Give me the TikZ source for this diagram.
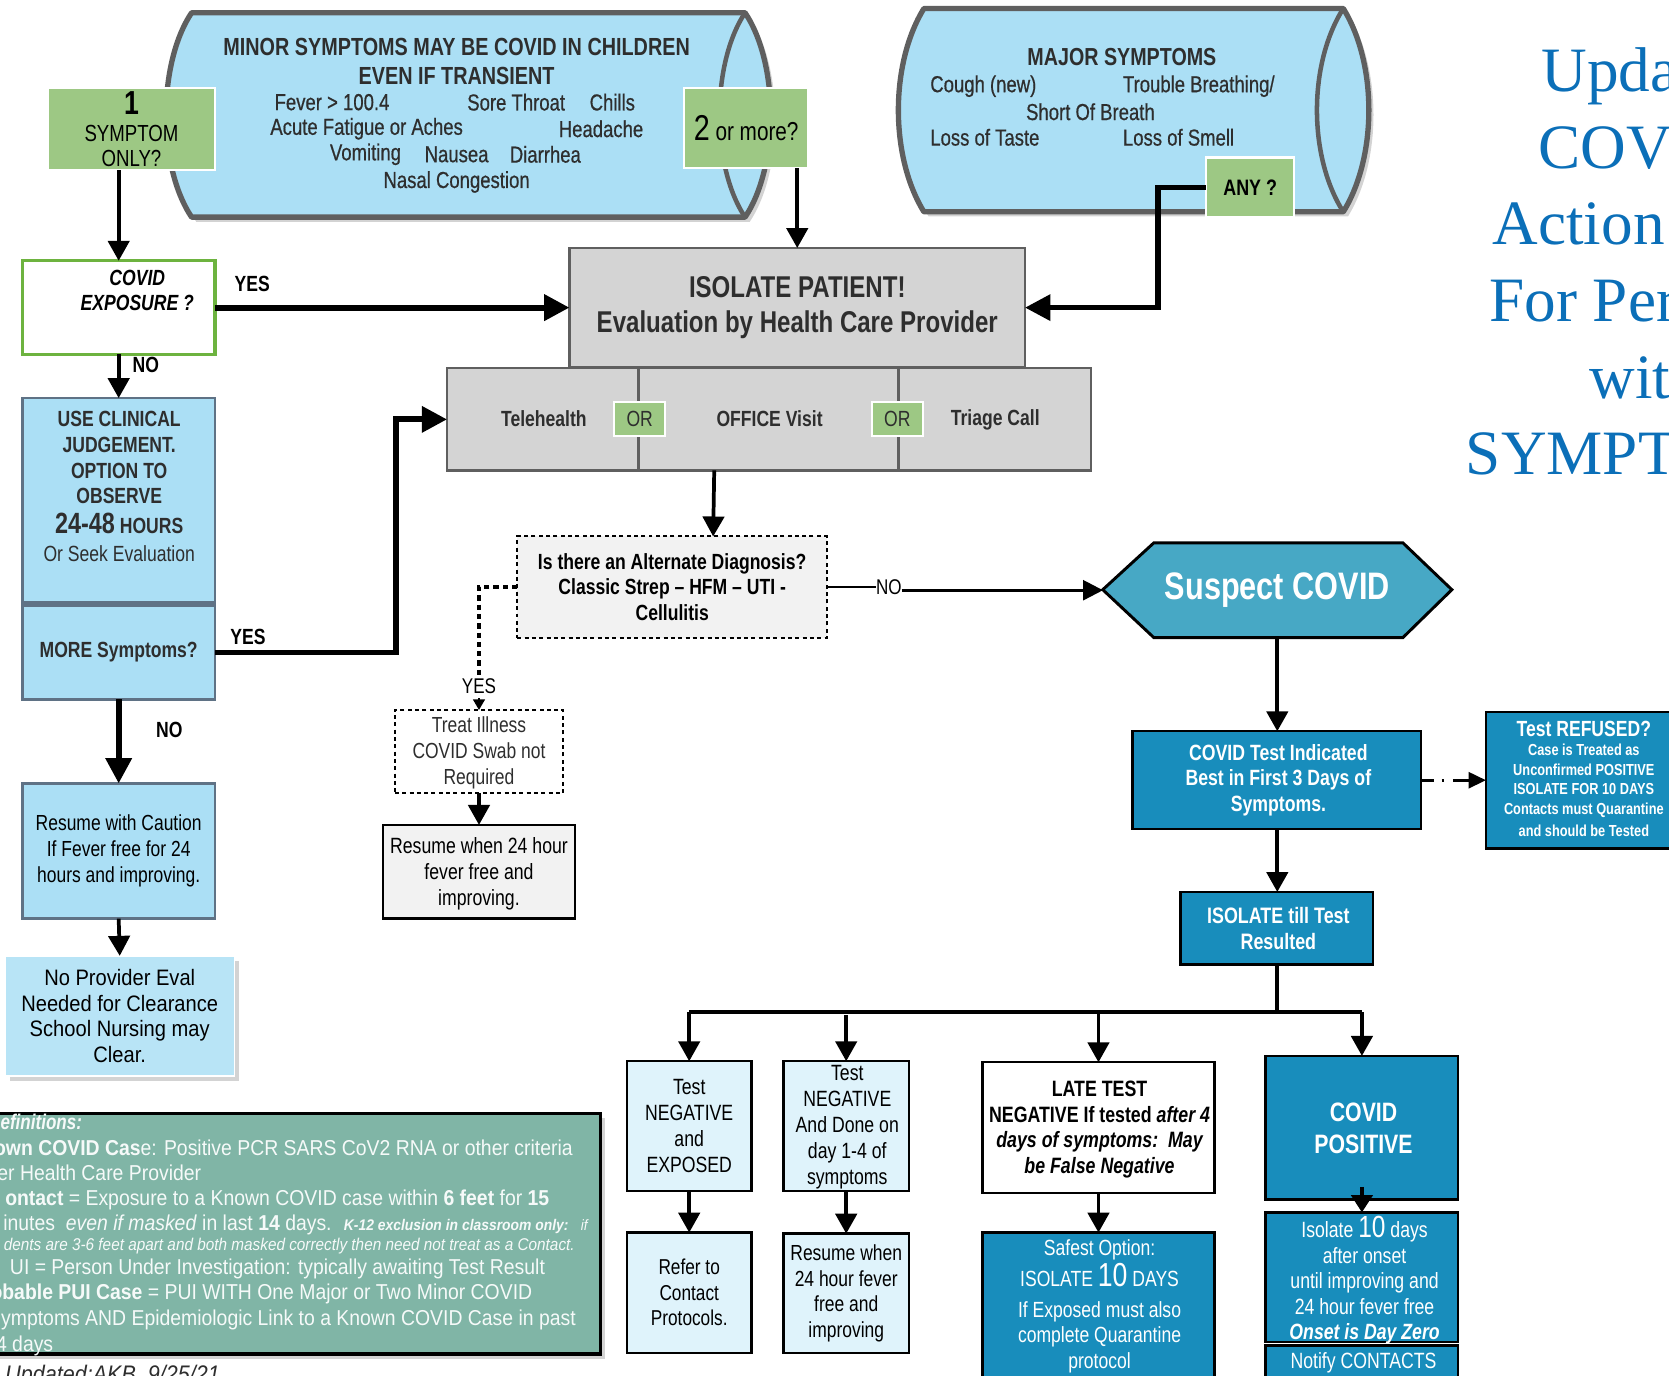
\documentclass[tikz,border=0pt]{standalone}
\usepackage{fontspec}
\setmainfont[FakeStretch=0.80]{Liberation Sans}
\newfontfamily\ser{Liberation Serif}
\newfontfamily\med[FakeStretch=0.80,FakeBold=0.6]{Liberation Sans}
\newfontfamily\dfn[FakeStretch=0.90]{Liberation Sans}
\usetikzlibrary{arrows.meta,shadows,calc}
\definecolor{lb}{HTML}{ABDFF5}
\definecolor{lbb}{HTML}{DFF3FB}
\definecolor{grn}{HTML}{9DC884}
\definecolor{grnb}{HTML}{6DB33F}
\definecolor{gr}{HTML}{D4D4D4}
\definecolor{edge}{HTML}{5F5F5F}
\definecolor{lbedge}{HTML}{5F7285}
\definecolor{pan}{HTML}{F2F2F2}
\definecolor{teal1}{HTML}{47A8C5}
\definecolor{db}{HTML}{188DBC}
\definecolor{defc}{HTML}{80B5A6}
\definecolor{ttl}{HTML}{0B6FB8}
\definecolor{ink}{HTML}{2E2E2E}
\newcommand{\fs}[2]{\fontsize{#1}{#2}\selectfont}
% box from corners: name, x1,y1,x2,y2, style, text
\newcommand{\bx}[7]{\node[boxn,#6,minimum width={(#4-(#2))*0.8pt},minimum height={(#5-(#3))*0.8pt}] (#1) at ({(#2+#4)/2},{(#3+#5)/2}) {#7};}
\tikzset{
  boxn/.style={inner sep=0pt,outer sep=0pt,align=center,text=ink},
  edgeb/.style={draw=edge,line width=1.8pt},
  grnbox/.style={fill=grn,draw=white,line width=1.6pt,text=black},
  lbbox/.style={fill=lb,draw=lbedge,line width=1.8pt,text=ink},
  lbbbox/.style={fill=lbb,draw=black,line width=1.8pt,text=black},
  whbox/.style={fill=white,draw=black,line width=1.8pt,text=black},
  dbbox/.style={fill=db,draw=black,line width=1.8pt,text=white},
  grbox/.style={fill=gr,edgeb},
  dsh/.style={draw=black,line width=1.5pt,dash pattern=on 3pt off 2.5pt},
  shad/.style={drop shadow={shadow xshift=3.5pt,shadow yshift=-3.5pt,opacity=.35,fill=gray}},
  tx/.style={inner sep=0pt,outer sep=0pt,align=center,text=ink},
  lft/.style={tx,anchor=west},
  dfl/.style={tx,anchor=east,text=white!93!defc},
  mt/.style={font=\med\fs{17.4}{20}},
  ttlt/.style={inner sep=0pt,anchor=base west,text=ttl,font=\ser\fs{47.5}{49}},
  lab/.style={tx,text=black,font=\bfseries\fs{16.5}{18}},
  arr/.style={line width=2.8pt,-{Triangle[length=15pt,width=16pt]}},
  arrb/.style={line width=4.4pt,-{Triangle[length=19pt,width=19pt]}},
  arrs/.style={line width=2pt,-{Triangle[length=13pt,width=12pt]}},
}
\begin{document}
\begin{tikzpicture}[x=0.8pt,y=-0.8pt]
\path[use as bounding box] (0,0) rectangle (1568,1292);
\clip (0,0) rectangle (1568,1292);
% cylinders
\path[shad,fill=lb,draw=edge,line width=4pt,line join=round]
 (180,12) -- (700,12) .. controls (732,60) and (732,156) .. (700,204) -- (180,204) .. controls (148,156) and (148,60) .. (180,12) -- cycle;
\draw[edge,line width=3.4pt] (700,12) .. controls (668,60) and (668,156) .. (700,204);
\path[shad,fill=lb,draw=edge,line width=4pt,line join=round]
 (868,8) -- (1262,8) .. controls (1294,60) and (1294,147) .. (1262,199) -- (868,199) .. controls (836,147) and (836,60) .. (868,8) -- cycle;
\draw[edge,line width=3.4pt] (1262,8) .. controls (1229,60) and (1229,147) .. (1262,199);
% cylinder texts
\node[tx,font=\bfseries\fs{18.6}{21.5}] (minorh) at (429,58) {MINOR SYMPTOMS MAY BE COVID IN CHILDREN\\EVEN IF TRANSIENT};
\node[lft,mt] (m1) at (258,96) {Fever > 100.4};
\node[lft,mt] (m2) at (439,96) {Sore Throat};
\node[lft,mt] (m3) at (554,96) {Chills};
\node[lft,mt] (m4) at (254,121) {Acute Fatigue or Aches};
\node[lft,mt] (m5) at (525,121) {Headache};
\node[lft,mt] (m6) at (310,145) {Vomiting};
\node[lft,mt] (m7) at (399,145) {Nausea};
\node[lft,mt] (m8) at (479,145) {Diarrhea};
\node[tx,mt] (m9) at (429,171) {Nasal Congestion};
\node[tx,font=\bfseries\fs{18.5}{21}] (majh) at (1054,54) {MAJOR SYMPTOMS};
\node[lft,mt] (j1) at (874,81) {Cough (new)};
\node[lft,mt] (j2) at (1055,81) {Trouble Breathing/};
\node[lft,mt] (j3) at (964,105) {Short Of Breath};
\node[lft,mt] (j4) at (874,129) {Loss of Taste};
\node[lft,mt] (j5) at (1055,129) {Loss of Smell};
% title
\node[ttlt] (t1) at (1448,86) {Upda};
\node[ttlt] (t2) at (1445,158) {COV};
\node[ttlt] (t3) at (1402,230) {Action};
\node[ttlt] (t4) at (1399,302) {For Per};
\node[ttlt] (t5) at (1493,374) {with};
\node[ttlt] (t6) at (1377,446) {SYMPT};
% green
\bx{one}{45}{83}{202}{160}{grnbox,font=\fs{17.5}{19}}{{\bfseries\fs{25}{24}1}\\[1pt]SYMPTOM\\ONLY?}
\bx{two}{643}{83}{759}{158}{grnbox,font=\fs{19.5}{19}}{{\fs{27}{25}2} or more?}
\bx{any}{1133}{148}{1216}{204}{grnbox,font=\bfseries\fs{16.8}{19}}{ANY ?}
% left column
\bx{expo}{21}{245}{202}{333}{fill=white,draw=grnb,line width=2.4pt}{}
\node[tx,text=black,font=\bfseries\itshape\fs{16.5}{19}] (expot) at (129,273) {COVID\\EXPOSURE ?};
\bx{use}{21}{374}{202}{566}{lbbox}{}
\node[tx,font=\fs{16.5}{19.4}] (uset) at (112,457) {\bfseries USE CLINICAL\\\bfseries JUDGEMENT.\\\bfseries OPTION TO\\\bfseries OBSERVE\\[2.5pt]{\bfseries\fs{22}{21}24-48} {\bfseries HOURS}\\[2pt]Or Seek Evaluation};
\bx{more}{21}{569}{202}{657}{lbbox,font=\bfseries\fs{16.5}{19}}{\raisebox{-1pt}{MORE Symptoms?}}
\bx{resl}{21}{736}{202}{863}{lbbox,text=black,font=\fs{16.4}{19.4}}{Resume with Caution\\If Fever free for 24\\hours and improving.}
\bx{nop}{5}{898}{220}{1011}{fill=lb!85!white,draw=white,line width=1pt,shad,text=black,font=\dfn\fs{16.8}{19.5}}{No Provider Eval\\Needed for Clearance\\School Nursing may\\Clear.}
% centre
\bx{iso}{535}{233}{963}{345}{grbox}{}
\node[tx,font=\bfseries\fs{22.6}{26.4}] (isot) at (749,289) {ISOLATE PATIENT!\\Evaluation by Health Care Provider};
\bx{row}{420}{346}{1025}{442}{grbox}{}
\draw[edgeb] (600,346) -- (600,442);
\draw[edgeb] (844,346) -- (844,442);
\node[tx,font=\bfseries\fs{16.5}{19}] (tele) at (511,393) {Telehealth};
\node[tx,font=\bfseries\fs{16.5}{19}] (off) at (723,393) {OFFICE Visit};
\node[tx,font=\bfseries\fs{16.5}{19}] (tri) at (935,394.5) {Triage Call};
\bx{or1}{577}{378}{625}{410}{grnbox,text=ink,font=\fs{16.5}{19}}{OR}
\bx{or2}{819}{378}{867}{410}{grnbox,text=ink,font=\fs{16.5}{19}}{OR}
\bx{alt}{486}{504}{777}{599}{fill=pan,dsh,text=black,font=\bfseries\fs{16.5}{19.2}}{Is there an Alternate Diagnosis?\\Classic Strep -- HFM -- UTI -\\Cellulitis}
\bx{treat}{371}{667}{529}{745}{fill=white,dsh}{}
\node[tx,font=\fs{16.4}{19.6}] (treatt) at (450,707) {Treat Illness\\COVID Swab not\\Required};
\bx{res2}{360}{775}{540}{863}{fill=pan,draw=black,line width=1.8pt}{}
\node[tx,text=black,font=\fs{16.6}{19.6}] (res2t) at (450,821) {Resume when 24 hour\\fever free and\\improving.};
% suspect
\draw[fill=teal1,draw=black,line width=2.2pt,line join=miter] (1036,554) -- (1084,510) -- (1318,510) -- (1364,554) -- (1318,599) -- (1084,599) -- cycle;
\node[boxn,text=white,font=\bfseries\fs{28.8}{30},minimum width=262pt,minimum height=71pt] (sus) at (1200,554.5) {\raisebox{-2pt}{Suspect COVID}};
% right column
\bx{test}{1064}{687}{1335}{779}{dbbox}{}
\node[tx,text=white,font=\bfseries\fs{16.6}{19.4}] (testt) at (1201,733) {COVID Test Indicated\\Best in First 3 Days of\\Symptoms.};
\bx{ref}{1396}{669}{1600}{797}{dbbox}{}
\node[tx,text=white,font=\bfseries\fs{12}{14.6}] (reft) at (1488,732) {{\fs{16.5}{18}Test REFUSED?}\\Case is Treated as\\Unconfirmed POSITIVE\\ISOLATE FOR 10 DAYS\\Contacts must Quarantine\\[2.5pt]and should be Tested};
\bx{till}{1109}{838}{1290}{906}{dbbox}{}
\node[tx,text=white,font=\bfseries\fs{16.8}{19.4}] (tillt) at (1201,872) {ISOLATE till Test\\Resulted};
\coordinate (bus) at (1200,951);
\bx{neg1}{589}{997}{706}{1119}{lbbbox,font=\fs{16.6}{19.4}}{Test\\NEGATIVE\\and\\EXPOSED}
\bx{ref1}{589}{1158}{706}{1271}{lbbbox,font=\fs{16.2}{19.2}}{Refer to\\Contact\\Protocols.}
\bx{neg2}{736}{997}{854}{1119}{lbbbox}{}
\node[tx,text=black,font=\fs{16.6}{19.4}] (neg2t) at (796,1059) {Test\\NEGATIVE\\And Done on\\day 1-4 of\\symptoms};
\bx{res3}{736}{1159}{854}{1271}{lbbbox,font=\fs{16.4}{19.2}}{Resume when\\24 hour fever\\free and\\improving}
\bx{late}{923}{998}{1141}{1121}{whbox}{}
\node[tx,text=black,font=\bfseries\fs{16.7}{19.2}] (latet) at (1033,1061) {LATE TEST\\NEGATIVE If tested {\itshape after 4}\\{\itshape days of symptoms:~~May}\\{\itshape be False Negative}};
\bx{safe}{923}{1158}{1141}{1300}{dbbox}{}
\node[tx,text=white,font=\fs{16.5}{19.2}] (safet) at (1033,1227) {Safest Option:\\[1.5pt]ISOLATE {\fs{25}{24}10} DAYS\\[4pt]If Exposed must also\\complete Quarantine\\protocol};
\bx{pos}{1189}{992}{1370}{1127}{dbbox}{}
\node[tx,text=white,font=\bfseries\fs{20}{24}] (post) at (1281,1060) {COVID\\POSITIVE};
\bx{iso2}{1189}{1139}{1370}{1261}{dbbox}{}
\node[tx,text=white,font=\fs{16.6}{19.2}] (iso2t) at (1282,1203) {Isolate {\fs{23}{23}10} days\\after onset\\until improving and\\24 hour fever free\\{\bfseries\itshape Onset is Day Zero}};
\bx{not}{1189}{1264}{1370}{1300}{dbbox}{}
\node[tx,text=white,font=\fs{16.6}{19}] (nott) at (1281,1280) {Notify CONTACTS};
% definitions
\bx{defs}{-10}{1046}{564}{1272}{fill=defc,draw=black,line width=2.4pt,shad}{}
\node[dfl,font=\bfseries\itshape\fs{16}{19}] (d1) at (77,1054) {efinitions:};
\node[dfl,font=\dfn\fs{16.2}{19}] (d2) at (538,1078) {{\bfseries nown COVID Cas}e: Positive PCR SARS CoV2 RNA or other criteria};
\node[dfl,font=\dfn\fs{16.2}{19}] (d3) at (189,1102) {er Health Care Provider};
\node[dfl,font=\dfn\fs{16.2}{19}] (d4) at (516,1127) {{\bfseries ontact} = Exposure to a Known COVID case within {\bfseries 6 feet} for {\bfseries 15}};
\node[dfl,font=\dfn\fs{16.2}{19}] (d5) at (552,1151) {inutes~~\textit{even if masked} in last {\bfseries 14} days. {\bfseries\itshape\fs{11.6}{13} K-12 exclusion in classroom only:} {\itshape\fs{11.3}{13} if}};
\node[dfl,font=\dfn\itshape\fs{12.8}{13}] (d6) at (540,1171) {dents are 3-6 feet apart and both masked correctly then need not treat as a Contact.};
\node[dfl,font=\dfn\fs{16.2}{19}] (d7) at (512,1192) {UI = Person Under Investigation: typically awaiting Test Result};
\node[dfl,font=\dfn\fs{16.2}{19}] (d8) at (500,1216) {{\bfseries obable PUI Case} = PUI WITH One Major or Two Minor COVID};
\node[dfl,font=\dfn\fs{16.2}{19}] (d9) at (541,1240) {ymptoms AND Epidemiologic Link to a Known COVID Case in past};
\node[dfl,font=\dfn\fs{16.2}{19}] (d10) at (50,1264) {4 days};
\node[tx,anchor=west,font=\dfn\itshape\fs{18}{19}] (upd) at (5,1293) {Updated:AKB~~9/25/21};
% labels
\node[lab] (lyes1) at (237,267) {YES};
\node[lab] (lno1) at (137,343) {NO};
\node[lab] (lyes2) at (233,598) {YES};
\node[lab] (lno2) at (159,686) {NO};
\node[tx,text=black,font=\fs{16}{18}] (lno3) at (835,552) {NO};
\node[tx,text=black,font=\fs{16}{18},outer sep=3pt] (lyes3) at (450,645) {YES};
% connectors
\draw[arr] (one.south -| expo.north) -- (expo.north);
\draw[arrb] (expo.east) -- (iso.west);
\draw[arr] (two.south -| iso.north) -- (iso.north);
\draw[line width=4pt,-{Triangle[length=19pt,width=19pt]},line join=miter] (any.west) -| ($(iso.east)+(125,0)$) -- (iso.east);
\draw[arr] (expo.south) -- (use.north);
\draw[arrb] (more.east) -- ++(170,0) |- (row.west);
\draw[arrb] (more.south) -- (resl.north);
\draw[arr] (resl.south) -- (nop.north);
\draw[arr] (671,442) -- (alt.north -| 670,0);
\draw[line width=2pt] (alt.east) -- (alt.east -| lno3.west);
\draw[arrs,-{Triangle[length=15pt,width=15pt]}] (lno3.east |- sus.west) -- (sus.west);
\draw[draw=black,line width=2.6pt,dash pattern=on 4pt off 3pt] (alt.west) -| (lyes3.north);
\draw[arrs,-{Triangle[length=8pt,width=9pt]},line width=1.2pt] (lyes3.south) -- (treat.north);
\draw[arr] (treat.south) -- (res2.north);
\draw[arr] (sus.south) -- (sus.south |- test.north);
\draw[arrs,dash pattern=on 10pt off 5.5pt on 2pt off 6.5pt on 12pt] (test.east) -- (test.east -| ref.west);
\draw[arr] (sus.south |- test.south) -- (sus.south |- till.north);
\draw[line width=2.8pt] (sus.south |- till.south) -- (bus);
\draw[line width=2.8pt] (neg1.north |- bus) -- (pos.north |- bus);
\draw[arr] (neg1.north |- bus) -- (neg1.north);
\draw[arr] ($(neg2.north |- bus)+(0,3)$) -- (neg2.north);
\draw[arr] (late.north |- bus) -- (late.north);
\draw[arr] (pos.north |- bus) -- (pos.north);
\draw[arr] (neg1.south) -- (ref1.north);
\draw[arr] (neg2.south) -- (res3.north);
\draw[arr] (late.south) -- (late.south |- safe.north);
\draw[arr,-{Triangle[length=13pt,width=16pt]}] ($(pos.south)+(0,-12)$) -- (iso2.north);
\end{tikzpicture}
\end{document}
